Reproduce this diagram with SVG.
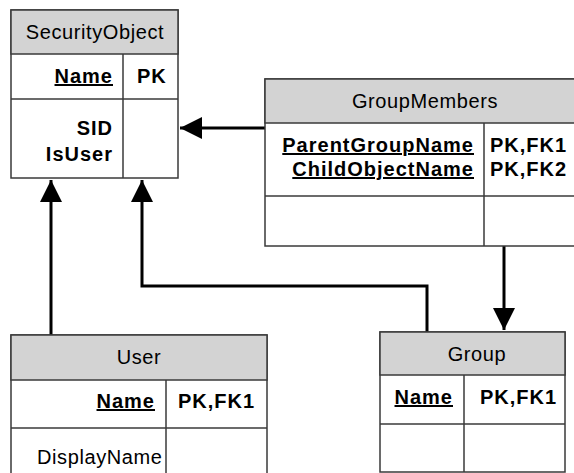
<svg xmlns="http://www.w3.org/2000/svg" width="574" height="473" viewBox="0 0 574 473">
<defs>
<style>
.box{fill:#ffffff;stroke:#3a3a3a;stroke-width:1.5}
.hdr{fill:#d3d3d3;stroke:#3a3a3a;stroke-width:1.5}
.ln{fill:none;stroke:#3a3a3a;stroke-width:1.5}
.t{font-family:"Liberation Sans",Arial,sans-serif;font-size:20px;fill:#000;letter-spacing:0.6px}
.b{font-family:"Liberation Sans",Arial,sans-serif;font-size:20px;font-weight:bold;fill:#000;letter-spacing:1px}
.u{text-decoration:underline}
.c{text-anchor:middle}
.r{text-anchor:end}
.con{fill:none;stroke:#000;stroke-width:3}
</style>
<marker id="arr" viewBox="0 0 22 22" refX="22" refY="11" markerWidth="22" markerHeight="22" markerUnits="userSpaceOnUse" orient="auto">
<path d="M0,0 L22,11 L0,22 Z" fill="#000"/>
</marker>
</defs>
<g id="connectors">
<path class="con" d="M265,128 L180,128" marker-end="url(#arr)"/>
<path class="con" d="M51,335 L51,180" marker-end="url(#arr)"/>
<path class="con" d="M427,332 L427,286 L142,286 L142,180" marker-end="url(#arr)"/>
<path class="con" d="M504,246 L504,330" marker-end="url(#arr)"/>
</g>
<g id="SecurityObject">
<rect class="box" x="11" y="10" width="167" height="168"/>
<rect class="hdr" x="11" y="10" width="167" height="44"/>
<line class="ln" x1="123" y1="54" x2="123" y2="178"/>
<line class="ln" x1="11" y1="99" x2="178" y2="99"/>
<text class="t c" x="95" y="39">SecurityObject</text>
<text class="b u r" x="113" y="83">Name</text>
<text class="b" x="137" y="83">PK</text>
<text class="b r" x="113" y="135">SID</text>
<text class="b r" x="113" y="161">IsUser</text>
</g>
<g id="GroupMembers">
<rect class="box" x="265" y="79" width="330" height="167"/>
<rect class="hdr" x="265" y="79" width="330" height="44"/>
<line class="ln" x1="484" y1="123" x2="484" y2="246"/>
<line class="ln" x1="265" y1="196" x2="595" y2="196"/>
<text class="t c" x="425" y="108">GroupMembers</text>
<text class="b u r" x="474" y="152">ParentGroupName</text>
<text class="b u r" x="474" y="176">ChildObjectName</text>
<text class="b" x="490" y="152">PK,FK1</text>
<text class="b" x="490" y="176">PK,FK2</text>
</g>
<g id="User">
<rect class="box" x="11" y="335" width="256" height="145"/>
<rect class="hdr" x="11" y="335" width="256" height="45"/>
<line class="ln" x1="166" y1="380" x2="166" y2="480"/>
<line class="ln" x1="11" y1="428" x2="267" y2="428"/>
<text class="t c" x="139" y="364">User</text>
<text class="b u r" x="155" y="408">Name</text>
<text class="b" x="178" y="408">PK,FK1</text>
<text class="t" x="37" y="464">DisplayName</text>
</g>
<g id="Group">
<rect class="box" x="380" y="332" width="185" height="140"/>
<rect class="hdr" x="380" y="332" width="185" height="43"/>
<line class="ln" x1="464" y1="375" x2="464" y2="472"/>
<line class="ln" x1="380" y1="424" x2="565" y2="424"/>
<text class="t c" x="477" y="361">Group</text>
<text class="b u r" x="453" y="404">Name</text>
<text class="b" x="480" y="404">PK,FK1</text>
</g>
</svg>
